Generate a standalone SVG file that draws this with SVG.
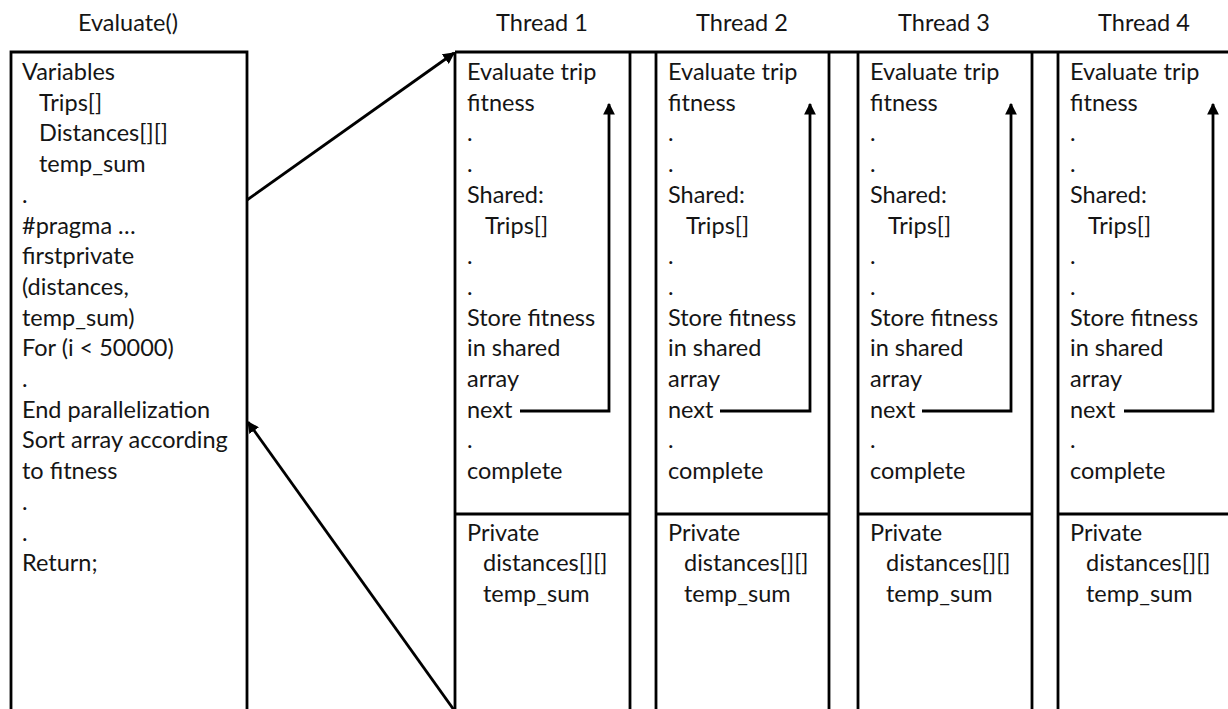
<svg xmlns="http://www.w3.org/2000/svg" width="1228" height="709" viewBox="0 0 1228 709">
<style>
text{font-family:Lato,"Liberation Sans",sans-serif;font-size:23.5px;fill:#151515}
.t{text-anchor:middle}
.b{fill:none;stroke:#000;stroke-width:2.8}
.c{fill:none;stroke:#000;stroke-width:2.8}
</style>
<defs>
<marker id="ah" viewBox="0 0 10 10" refX="9" refY="5" markerWidth="4.2" markerHeight="4.2" orient="auto" markerUnits="strokeWidth">
<path d="M0,0 L10,5 L0,10 z" fill="#000"/>
</marker>
</defs>
<rect width="1228" height="709" fill="#fff"/>
<g id="evaluate">
<text class="t" x="128" y="31">Evaluate()</text>
<path class="b" d="M11,712 V52 H247 V712"/>
<text x="22" y="80">Variables</text>
<text x="39" y="110.7">Trips[]</text>
<text x="39" y="141.4">Distances[][]</text>
<text x="39" y="172.1">temp_sum</text>
<text x="22" y="202.8">.</text>
<text x="22" y="233.5">#pragma …</text>
<text x="22" y="264.2">firstprivate</text>
<text x="22" y="294.9">(distances,</text>
<text x="22" y="325.6">temp_sum)</text>
<text x="22" y="356.3">For (i &lt; 50000)</text>
<text x="22" y="387">.</text>
<text x="22" y="417.7">End parallelization</text>
<text x="22" y="448.4">Sort array according</text>
<text x="22" y="479.1">to fitness</text>
<text x="22" y="509.8">.</text>
<text x="22" y="540.5">.</text>
<text x="22" y="571.2">Return;</text>
</g>
<g id="threads-top">
<path class="b" d="M455,52 H1230"/>
</g>
<g id="thread1">
<text class="t" x="542" y="31">Thread 1</text>
<path class="b" d="M455,52 V712 M630,52 V712 M455,514 H630"/>
<g transform="translate(455,0)">
<text x="12" y="80">Evaluate trip</text>
<text x="12" y="110.7">fitness</text>
<text x="12" y="141.4">.</text>
<text x="12" y="172.1">.</text>
<text x="12" y="202.8">Shared:</text>
<text x="30" y="233.5">Trips[]</text>
<text x="12" y="264.2">.</text>
<text x="12" y="294.9">.</text>
<text x="12" y="325.6">Store fitness</text>
<text x="12" y="356.3">in shared</text>
<text x="12" y="387">array</text>
<text x="12" y="417.7">next</text>
<text x="12" y="448.4">.</text>
<text x="12" y="479.1">complete</text>
<text x="12" y="540.5">Private</text>
<text x="28" y="571.2">distances[][]</text>
<text x="28" y="601.9">temp_sum</text>
</g>
</g>
<g id="thread2">
<text class="t" x="742" y="31">Thread 2</text>
<path class="b" d="M656,52 V712 M829,52 V712 M656,514 H829"/>
<g transform="translate(656,0)">
<text x="12" y="80">Evaluate trip</text>
<text x="12" y="110.7">fitness</text>
<text x="12" y="141.4">.</text>
<text x="12" y="172.1">.</text>
<text x="12" y="202.8">Shared:</text>
<text x="30" y="233.5">Trips[]</text>
<text x="12" y="264.2">.</text>
<text x="12" y="294.9">.</text>
<text x="12" y="325.6">Store fitness</text>
<text x="12" y="356.3">in shared</text>
<text x="12" y="387">array</text>
<text x="12" y="417.7">next</text>
<text x="12" y="448.4">.</text>
<text x="12" y="479.1">complete</text>
<text x="12" y="540.5">Private</text>
<text x="28" y="571.2">distances[][]</text>
<text x="28" y="601.9">temp_sum</text>
</g>
</g>
<g id="thread3">
<text class="t" x="944" y="31">Thread 3</text>
<path class="b" d="M858,52 V712 M1032,52 V712 M858,514 H1032"/>
<g transform="translate(858,0)">
<text x="12" y="80">Evaluate trip</text>
<text x="12" y="110.7">fitness</text>
<text x="12" y="141.4">.</text>
<text x="12" y="172.1">.</text>
<text x="12" y="202.8">Shared:</text>
<text x="30" y="233.5">Trips[]</text>
<text x="12" y="264.2">.</text>
<text x="12" y="294.9">.</text>
<text x="12" y="325.6">Store fitness</text>
<text x="12" y="356.3">in shared</text>
<text x="12" y="387">array</text>
<text x="12" y="417.7">next</text>
<text x="12" y="448.4">.</text>
<text x="12" y="479.1">complete</text>
<text x="12" y="540.5">Private</text>
<text x="28" y="571.2">distances[][]</text>
<text x="28" y="601.9">temp_sum</text>
</g>
</g>
<g id="thread4">
<text class="t" x="1144" y="31">Thread 4</text>
<path class="b" d="M1058,52 V712 M1058,514 H1230"/>
<g transform="translate(1058,0)">
<text x="12" y="80">Evaluate trip</text>
<text x="12" y="110.7">fitness</text>
<text x="12" y="141.4">.</text>
<text x="12" y="172.1">.</text>
<text x="12" y="202.8">Shared:</text>
<text x="30" y="233.5">Trips[]</text>
<text x="12" y="264.2">.</text>
<text x="12" y="294.9">.</text>
<text x="12" y="325.6">Store fitness</text>
<text x="12" y="356.3">in shared</text>
<text x="12" y="387">array</text>
<text x="12" y="417.7">next</text>
<text x="12" y="448.4">.</text>
<text x="12" y="479.1">complete</text>
<text x="12" y="540.5">Private</text>
<text x="28" y="571.2">distances[][]</text>
<text x="28" y="601.9">temp_sum</text>
</g>
</g>
<g id="connectors">
<line class="c" x1="247" y1="200" x2="454" y2="53" marker-end="url(#ah)"/>
<line class="c" x1="454" y1="710" x2="248" y2="422" marker-end="url(#ah)"/>
<path class="c" d="M520,411 H609 V104" marker-end="url(#ah)"/>
<path class="c" d="M720,411 H810 V104" marker-end="url(#ah)"/>
<path class="c" d="M922,411 H1011 V104" marker-end="url(#ah)"/>
<path class="c" d="M1124,411 H1213 V104" marker-end="url(#ah)"/>
</g>
</svg>
